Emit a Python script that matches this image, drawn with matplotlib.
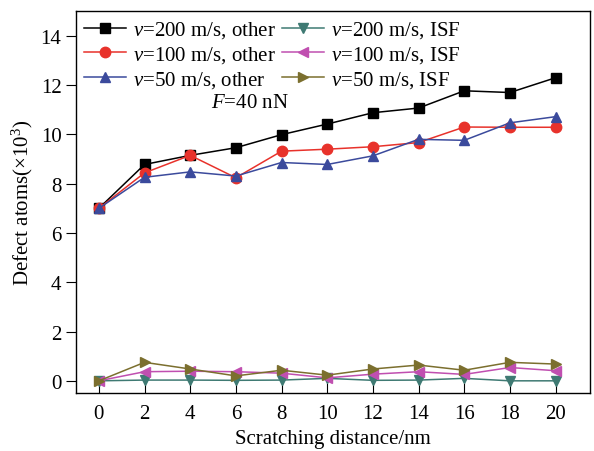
import matplotlib
matplotlib.use("Agg")
import matplotlib.pyplot as plt

plt.rcParams['font.family'] = ['Liberation Serif', 'DejaVu Serif']
plt.rcParams['mathtext.fontset'] = 'custom'
plt.rcParams['mathtext.rm'] = 'Liberation Serif'
plt.rcParams['mathtext.it'] = 'Liberation Serif:italic'

x = [0, 2, 4, 6, 8, 10, 12, 14, 16, 18, 20]
v200_other = [7.0, 8.78, 9.15, 9.46, 9.99, 10.42, 10.88, 11.07, 11.77, 11.70, 12.30]
v100_other = [7.0, 8.44, 9.15, 8.24, 9.32, 9.40, 9.50, 9.67, 10.30, 10.29, 10.29]
v50_other = [7.0, 8.26, 8.48, 8.31, 8.86, 8.78, 9.13, 9.80, 9.76, 10.47, 10.72]
v200_isf = [0.0, 0.03, 0.03, 0.02, 0.03, 0.10, 0.02, 0.03, 0.10, 0.0, 0.0]
v100_isf = [0.0, 0.37, 0.39, 0.37, 0.31, 0.12, 0.27, 0.37, 0.26, 0.54, 0.41]
v50_isf = [0.0, 0.75, 0.48, 0.20, 0.43, 0.23, 0.48, 0.64, 0.43, 0.75, 0.68]

labels = [r"$\mathit{v}$=200 m/s, other", r"$\mathit{v}$=100 m/s, other",
          r"$\mathit{v}$=50 m/s, other", r"$\mathit{v}$=200 m/s, ISF",
          r"$\mathit{v}$=100 m/s, ISF", r"$\mathit{v}$=50 m/s, ISF"]
series = [v200_other, v100_other, v50_other, v200_isf, v100_isf, v50_isf]
colors = ['#000000', '#e8322b', '#3b4a9c', '#3f7a73', '#c04fb0', '#7b6f2e']
markers = ['s', 'o', '^', 'v', '<', '>']

fig = plt.figure(figsize=(5.94, 4.52), dpi=100)
ax = fig.add_axes([0.128, 0.128, 0.865, 0.845])

for y, c, m, lab in zip(series, colors, markers, labels):
    ax.plot(x, y, color=c, marker=m, markersize=7.5, linewidth=1.1, label=lab)

ax.set_xlim(-1, 21.5)
ax.set_ylim(-0.5, 15)
ax.set_xticks(x)
ax.set_yticks([0, 2, 4, 6, 8, 10, 12, 14])
ax.tick_params(axis='x', direction='in', length=7, labelsize=15, pad=8)
ax.tick_params(axis='y', direction='out', length=7, labelsize=15)
for s in ax.spines.values():
    s.set_linewidth(1.0)

ax.set_xlabel("Scratching distance/nm", fontsize=15, labelpad=4)
ax.set_ylabel(r"Defect atoms($\times$10$^3$)", fontsize=15, labelpad=4)

ax.text(6.6, 11.3, r"$\mathit{F}$=40 nN", fontsize=15, ha='center', va='center')

ax.legend(loc='upper left', ncol=2, frameon=False, fontsize=15,
          handlelength=2.0, handletextpad=0.35, columnspacing=0.3,
          labelspacing=0.18, borderaxespad=0.1, borderpad=0.3)

fig.savefig("out.png", dpi=100)
